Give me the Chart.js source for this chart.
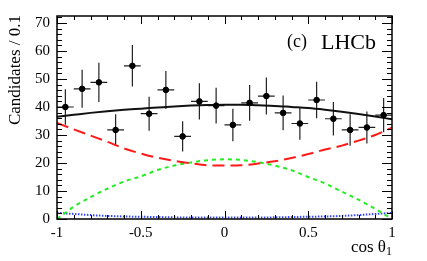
<!DOCTYPE html>
<html>
<head>
<meta charset="utf-8">
<script src="https://cdn.jsdelivr.net/npm/chart.js@4.4.0/dist/chart.umd.min.js"></script>
<style>
  html, body { margin: 0; padding: 0; background: #fff; }
  canvas { display: block; }
</style>
</head>
<body>
<canvas id="chart" width="427" height="261"></canvas>
<script>
// Data
const binCenters = [-0.95, -0.85, -0.75, -0.65, -0.55, -0.45, -0.35, -0.25, -0.15, -0.05,
                    0.05, 0.15, 0.25, 0.35, 0.45, 0.55, 0.65, 0.75, 0.85, 0.95];
const counts = [40.0, 46.5, 48.8, 31.8, 54.7, 37.6, 46.1, 29.5, 42.0, 40.5,
                33.6, 41.5, 43.9, 37.9, 34.1, 42.5, 35.8, 31.8, 32.7, 37.1];
const errors = [6.3, 6.8, 7.0, 5.6, 7.4, 6.1, 6.8, 5.4, 6.5, 6.4,
                5.8, 6.4, 6.6, 6.2, 5.8, 6.5, 6.0, 5.6, 5.7, 6.1];

const curveX = [-1, -0.9, -0.8, -0.7, -0.6, -0.5, -0.4, -0.3, -0.2, -0.1, 0,
                0.1, 0.2, 0.3, 0.4, 0.5, 0.6, 0.7, 0.8, 0.9, 1];
const totalFit = [36.5, 37.2, 37.9, 38.5, 39.0, 39.4, 39.8, 40.2, 40.5, 40.7, 40.8,
                  40.8, 40.6, 40.4, 40.0, 39.6, 39.0, 38.3, 37.5, 36.6, 35.6];
const redFit = [34.3, 32.0, 29.8, 27.6, 25.2, 23.4, 21.9, 20.8, 19.9, 19.2, 19.1,
                19.2, 19.8, 20.6, 21.8, 23.2, 24.8, 26.2, 28.0, 30.0, 32.6];
const greenFit = [0.0, 4.4, 7.8, 10.8, 13.4, 15.2, 17.5, 19.1, 20.2, 21.0, 21.3,
                  21.1, 20.3, 19.1, 17.4, 15.0, 12.7, 9.8, 6.9, 3.6, 0.0];
const blueFit = [2.2, 1.8, 1.4, 1.1, 0.9, 0.8, 0.7, 0.6, 0.5, 0.5, 0.5,
                 0.5, 0.5, 0.6, 0.7, 0.8, 0.9, 1.1, 1.4, 1.8, 2.2];

const binHalfWidth = 0.05;
const serif = '"Liberation Serif", "DejaVu Serif", serif';

function toPoints(xs, ys) {
    return xs.map((x, i) => ({ x: x, y: ys[i] }));
}

function curve(ys, color, dash) {
    return {
        type: 'line',
        data: toPoints(curveX, ys),
        borderColor: color,
        borderWidth: 2,
        borderDash: dash,
        pointRadius: 0,
        fill: false,
        cubicInterpolationMode: 'monotone'
    };
}

// error bars under the points
const errorBars = {
    id: 'errorBars',
    beforeDatasetsDraw(chart) {
        const ctx = chart.ctx;
        const xs = chart.scales.x, ys = chart.scales.y;
        ctx.save();
        ctx.strokeStyle = '#222';
        ctx.lineWidth = 1.2;
        binCenters.forEach((x, i) => {
            const px = xs.getPixelForValue(x);
            const py = ys.getPixelForValue(counts[i]);
            ctx.beginPath();
            ctx.moveTo(px, ys.getPixelForValue(counts[i] - errors[i]));
            ctx.lineTo(px, ys.getPixelForValue(counts[i] + errors[i]));
            ctx.moveTo(xs.getPixelForValue(x - binHalfWidth), py);
            ctx.lineTo(xs.getPixelForValue(x + binHalfWidth), py);
            ctx.stroke();
        });
        ctx.restore();
    }
};

// ROOT style frame with inward ticks, axis titles and labels
const frame = {
    id: 'frame',
    afterDraw(chart) {
        const ctx = chart.ctx;
        const a = chart.chartArea;
        const xs = chart.scales.x, ys = chart.scales.y;
        ctx.save();
        ctx.strokeStyle = '#000';
        ctx.lineWidth = 1.5;
        ctx.strokeRect(a.left, a.top, a.right - a.left, a.bottom - a.top);

        ctx.lineWidth = 1;
        ctx.beginPath();
        for (let i = -10; i <= 10; i++) {
            const px = Math.round(xs.getPixelForValue(i / 10)) + 0.5;
            const len = (i % 5 === 0) ? 8 : 4;
            ctx.moveTo(px, a.bottom); ctx.lineTo(px, a.bottom - len);
            ctx.moveTo(px, a.top); ctx.lineTo(px, a.top + len);
        }
        for (let v = 0; v <= 72; v += 2) {
            const py = Math.round(ys.getPixelForValue(v)) + 0.5;
            const len = (v % 10 === 0) ? 10 : 5;
            ctx.moveTo(a.left, py); ctx.lineTo(a.left + len, py);
            ctx.moveTo(a.right, py); ctx.lineTo(a.right - len, py);
        }
        ctx.stroke();

        ctx.fillStyle = '#000';
        // y title
        ctx.save();
        ctx.translate(20, a.top - 1);
        ctx.rotate(-Math.PI / 2);
        ctx.font = '17px ' + serif;
        ctx.textAlign = 'right';
        ctx.textBaseline = 'alphabetic';
        ctx.fillText('Candidates / 0.1', 0, 0);
        ctx.restore();

        // x title
        ctx.textAlign = 'right';
        ctx.textBaseline = 'alphabetic';
        ctx.font = '12px ' + serif;
        const subW = ctx.measureText('1').width;
        ctx.fillText('1', a.right, 255);
        ctx.font = '17px ' + serif;
        ctx.fillText('cos \u03b8', a.right - subW, 252);

        // label
        ctx.textAlign = 'left';
        ctx.font = '18px ' + serif;
        ctx.fillText('(c)', 287, 47);
        ctx.font = '22px ' + serif;
        ctx.fillText('LHCb', 321, 49);
        ctx.restore();
    }
};

new Chart(document.getElementById('chart'), {
    type: 'scatter',
    data: {
        datasets: [
            {
                data: toPoints(binCenters, counts),
                backgroundColor: '#000',
                borderColor: '#000',
                pointRadius: 2.8,
                showLine: false
            },
            curve(totalFit, '#111', []),
            curve(redFit, '#ff1a1a', [12, 6]),
            curve(greenFit, '#22ee22', [4, 4]),
            curve(blueFit, '#3344ff', [1.5, 1.5])
        ]
    },
    options: {
        responsive: false,
        animation: false,
        devicePixelRatio: 1,
        layout: { padding: { top: 14, right: 35, left: 0, bottom: 0 } },
        plugins: { legend: { display: false }, tooltip: { enabled: false } },
        scales: {
            x: {
                type: 'linear',
                min: -1,
                max: 1,
                grid: { display: false, drawTicks: false },
                border: { display: false },
                ticks: {
                    stepSize: 0.5,
                    padding: 5,
                    maxRotation: 0,
                    color: '#000',
                    font: { family: serif, size: 15 },
                    callback: v => String(Math.round(v * 10) / 10)
                },
                afterFit: s => { s.height = 42; }
            },
            y: {
                min: 0,
                max: 72.5,
                grid: { display: false, drawTicks: false },
                border: { display: false },
                ticks: {
                    stepSize: 10,
                    includeBounds: false,
                    padding: 7,
                    color: '#000',
                    font: { family: serif, size: 15 }
                },
                afterFit: s => { s.width = 57; }
            }
        }
    },
    plugins: [errorBars, frame]
});
</script>
</body>
</html>
